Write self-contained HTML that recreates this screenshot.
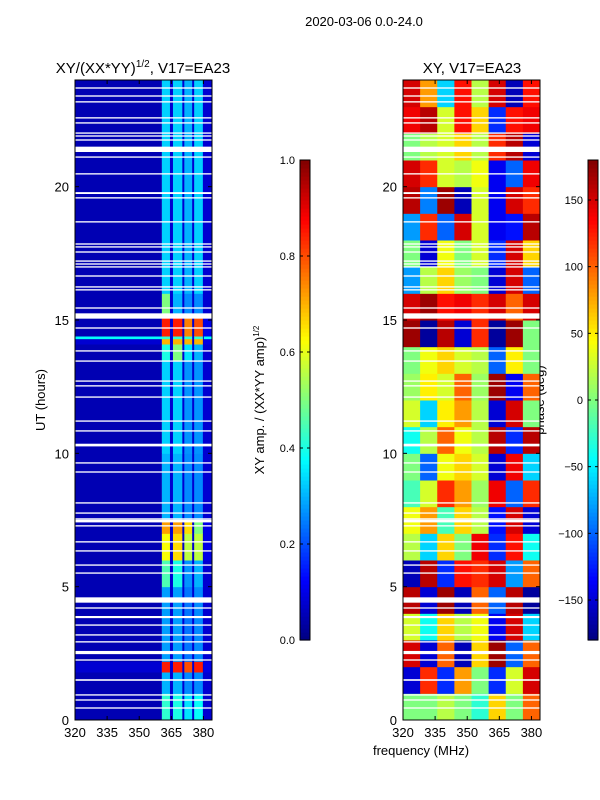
<!DOCTYPE html>
<html><head><meta charset="utf-8">
<style>
html,body{margin:0;padding:0;background:#fff;}
svg{display:block;font-family:"Liberation Sans","DejaVu Sans",sans-serif;}
</style></head>
<body>
<svg id="fig" width="600" height="800" viewBox="0 0 600 800" xmlns="http://www.w3.org/2000/svg">
  <text x="364" y="26" font-size="13" text-anchor="middle">2020-03-06 0.0-24.0</text>
  <text x="143" y="73" font-size="15" text-anchor="middle">XY/(XX*YY)<tspan font-size="10" dy="-6">1/2</tspan><tspan dy="6">, V17=EA23</tspan></text>
  <text x="472" y="73" font-size="15" text-anchor="middle">XY, V17=EA23</text>
  <text x="45" y="400" font-size="13" text-anchor="middle" transform="rotate(-90 45 400)">UT (hours)</text>
  <text x="264" y="400" font-size="13" text-anchor="middle" transform="rotate(-90 264 400)">XY amp. / (XX*YY amp)<tspan font-size="8" dy="-5">1/2</tspan></text>
  <text x="544" y="400" font-size="13" text-anchor="middle" transform="rotate(-90 544 400)">phase (deg)</text>
  <text x="421" y="755" font-size="13" text-anchor="middle">frequency (MHz)</text>
  <g id="left"></g><g id="right"></g><g id="cb1"></g><g id="cb2"></g>
</svg>
<script>
// ---- data ----
const freqTicks = [320, 335, 350, 365, 380];
const hourTicks = [0, 5, 10, 15, 20];
const ampBandEdges = [320, 360.6, 365.3, 370.6, 375.2, 380.2, 384];
const ampSegStart = [0, 1, 1.8, 2.2, 5, 6, 7, 7.5, 10, 13.5, 14.1, 14.3, 14.4, 15.2, 16];
const ampSegEnd   = [1, 1.8, 2.2, 5, 6, 7, 7.5, 10, 13.5, 14.1, 14.3, 14.4, 15.2, 16, 24];
const ampBg = [0.05,0.05,0.08,0.05,0.05,0.05,0.05,0.05,0.05,0.05,0.08,0.38,0.05,0.05,0.05];
const ampC1 = [0.42,0.3,0.85,0.28,0.45,0.62,0.72,0.3,0.33,0.4,0.7,0.42,0.85,0.5,0.33];
const ampC2 = [0.4,0.3,0.85,0.28,0.4,0.66,0.72,0.3,0.33,0.5,0.7,0.42,0.85,0.3,0.33];
const ampC3 = [0.35,0.26,0.8,0.24,0.27,0.56,0.66,0.26,0.27,0.35,0.7,0.42,0.75,0.26,0.3];
const ampC4 = [0.38,0.26,0.85,0.26,0.3,0.56,0.5,0.26,0.27,0.3,0.7,0.42,0.8,0.26,0.33];
const ampEdge = [0.08,0.08,0.1,0.08,0.08,0.1,0.1,0.08,0.08,0.08,0.1,0.38,0.1,0.08,0.08];
const phaseFreqEdges = [320,328,336,344,352,360,368,376,384];
const phaseRows = [
 [0,0,20,0,-30,60,0,100],
 [-150,120,-120,80,0,-120,30,150],
 [150,-150,100,-160,60,170,-100,100],
 [30,-40,60,20,40,-140,150,-60],
 [160,-150,170,-160,100,-100,160,-170],
 [-160,160,-120,130,120,150,-80,100],
 [20,-60,60,0,140,-120,130,-40],
 [40,80,-20,60,20,-130,150,-150],
 [-20,30,120,80,10,140,-100,120],
 [0,-100,40,60,30,-150,140,-60],
 [-40,20,100,40,20,160,-120,160],
 [30,-60,50,80,20,-150,150,0],
 [10,50,30,100,10,170,-140,100],
 [0,40,60,30,20,-100,50,0],
 [170,-170,160,-150,120,-170,170,0],
 [150,170,130,140,120,150,100,150],
 [-80,20,60,10,0,-150,150,-100],
 [0,-150,40,0,30,-120,150,60],
 [-80,120,-100,150,30,-140,-130,160],
 [160,-90,170,-160,30,-140,150,120],
 [150,120,30,20,40,-140,-100,140],
 [0,20,30,60,20,120,160,-150],
 [140,160,30,130,60,-120,130,140],
 [150,80,-60,130,20,150,-160,130]
];
const gapHours = [23.7,23.4,23.18,22.58,22.39,22.01,21.9,21.75,21.4,21.11,20.48,19.76,19.58,18.68,17.85,17.74,17.55,17.21,17.1,16.99,16.65,16.24,16.13,15.45,15.15,14.7,13.84,13.46,12.71,12.53,12.11,11.21,10.84,10.31,9.64,9.3,8.14,7.76,7.54,7.46,7.28,6.68,6.34,5.81,5.51,4.5,4.2,3.86,3.56,3.19,2.93,2.53,2.25,1.5,0.94,0.75,0.45];
const gapWidth = [0.05,0.05,0.05,0.05,0.05,0.05,0.05,0.05,0.2,0.05,0.05,0.07,0.05,0.05,0.05,0.05,0.05,0.05,0.05,0.05,0.05,0.05,0.05,0.05,0.2,0.05,0.05,0.05,0.05,0.05,0.05,0.05,0.05,0.1,0.05,0.05,0.05,0.05,0.05,0.1,0.05,0.05,0.05,0.05,0.05,0.2,0.05,0.08,0.05,0.05,0.05,0.12,0.05,0.06,0.05,0.05,0.05];
const ampCbTicks = [0.0,0.2,0.4,0.6,0.8,1.0];
const ampCbLabels = ["0.0","0.2","0.4","0.6","0.8","1.0"];
const phaseCbTicks = [-150,-100,-50,0,50,100,150];
const phaseCbLabels = ["\u2212150","\u2212100","\u221250","0","50","100","150"];

// ---- helpers ----
const NS = "http://www.w3.org/2000/svg";
function jet(v){
  v = Math.max(0, Math.min(1, v));
  const r = Math.max(0, Math.min(1, 1.5 - Math.abs(4*v - 3)));
  const g = Math.max(0, Math.min(1, 1.5 - Math.abs(4*v - 2)));
  const b = Math.max(0, Math.min(1, 1.5 - Math.abs(4*v - 1)));
  return "rgb(" + Math.round(r*255) + "," + Math.round(g*255) + "," + Math.round(b*255) + ")";
}
function mk(tag, attrs, parent){
  const e = document.createElementNS(NS, tag);
  for (const k in attrs) e.setAttribute(k, attrs[k]);
  parent.appendChild(e); return e;
}
const Y0 = 720, Y1 = 80;
function yS(h){ return Y0 - (h/24)*(Y0-Y1); }
function xS(left){ return f => left + (f-320)*137/64; }

function axes(g, left, panelName){
  const x = xS(left);
  freqTicks.forEach(f => {
    const t = mk("line", {x1:x(f), x2:x(f), y1:Y0, y2:Y0-4, stroke:"#000"}, g);
    
    
    mk("line", {x1:x(f), x2:x(f), y1:Y1, y2:Y1+4, stroke:"#000"}, g);
    const l = mk("text", {x:x(f), y:Y0+17, "font-size":13, "text-anchor":"middle"}, g);
    l.textContent = f;
    
    
  });
  hourTicks.forEach(h => {
    mk("line", {x1:left, x2:left+4, y1:yS(h), y2:yS(h), stroke:"#000"}, g);
    mk("line", {x1:left+137-4, x2:left+137, y1:yS(h), y2:yS(h), stroke:"#000"}, g);
    const l = mk("text", {x:left-6, y:yS(h)+5, "font-size":13, "text-anchor":"end"}, g);
    l.textContent = h;
    
    
  });
  const fr = mk("rect", {x:left, y:Y1, width:137, height:Y0-Y1, fill:"none", stroke:"#000", "stroke-width":1}, g);
  
  
}
function gaps(g, left){
  gapHours.forEach((h,i) => {
    const w = gapWidth[i];
    const r = mk("rect", {x:left, y:yS(h+w/2), width:137, height:Math.max(1.3,(yS(h-w/2)-yS(h+w/2))), fill:"#fff"}, g);
    
    
  });
}

// ---- left amplitude panel ----
(function(){
  const g = document.getElementById("left");
  const left = 75, x = xS(left);
  const bands = [ampBg, ampC1, ampC2, ampC3, ampC4, ampEdge];
  // dark separators behind columns
  mk("rect", {x:x(ampBandEdges[1]), y:Y1, width:x(384)-x(ampBandEdges[1]), height:Y0-Y1, fill:jet(0.08)}, g);
  ampSegStart.forEach((s,i) => {
    const e = ampSegEnd[i];
    bands.forEach((arr,b) => {
      const x0 = x(ampBandEdges[b]), x1 = x(ampBandEdges[b+1]);
      const r = mk("rect", {x:x0 + (b>1&&b<5?1:0), y:yS(e), width:x1-x0 - (b>0&&b<5?2:0), height:yS(s)-yS(e)+0.5, fill:jet(arr[i])}, g);
      
      
    });
  });
  gaps(g, left);
  axes(g, left, 'amp-panel');
})();

// ---- right phase panel ----
(function(){
  const g = document.getElementById("right");
  const left = 403, x = xS(left);
  phaseRows.forEach((row,i) => {
    row.forEach((v,j) => {
      const x0 = x(phaseFreqEdges[j]), x1 = x(phaseFreqEdges[j+1]);
      const r = mk("rect", {x:x0, y:yS(i+1), width:x1-x0+0.5, height:yS(i)-yS(i+1)+0.5, fill:jet((v+180)/360)}, g);
      
      
    });
  });
  gaps(g, left);
  axes(g, left, 'phase-panel');
})();

// ---- colorbars ----
function colorbar(id, x0, min, max, ticks, labels, name){
  const g = document.getElementById(id);
  const top = 160, bot = 640, w = 10;
  const n = 120;
  for (let k=0;k<n;k++){
    const v = k/n;
    mk("rect", {x:x0, y:bot-(k+1)*(bot-top)/n, width:w, height:(bot-top)/n+0.6, fill:jet(v+0.5/n)}, g);
  }
  const fr = mk("rect", {x:x0, y:top, width:w, height:bot-top, fill:"none", stroke:"#000"}, g);
  
  
  ticks.forEach((t,i) => {
    const y = bot - (t-min)/(max-min)*(bot-top);
    mk("line", {x1:x0, x2:x0+3, y1:y, y2:y, stroke:"#000"}, g);
    mk("line", {x1:x0+w-3, x2:x0+w, y1:y, y2:y, stroke:"#000"}, g);
    const l = mk("text", {x:x0-5, y:y+4, "font-size":11, "text-anchor":"end"}, g);
    l.textContent = labels[i];
    
    
  });
}
colorbar("cb1", 300, 0, 1, ampCbTicks, ampCbLabels, 'amp-colorbar');
colorbar("cb2", 588, -180, 180, phaseCbTicks, phaseCbLabels, 'phase-colorbar');
</script>
</body></html>
